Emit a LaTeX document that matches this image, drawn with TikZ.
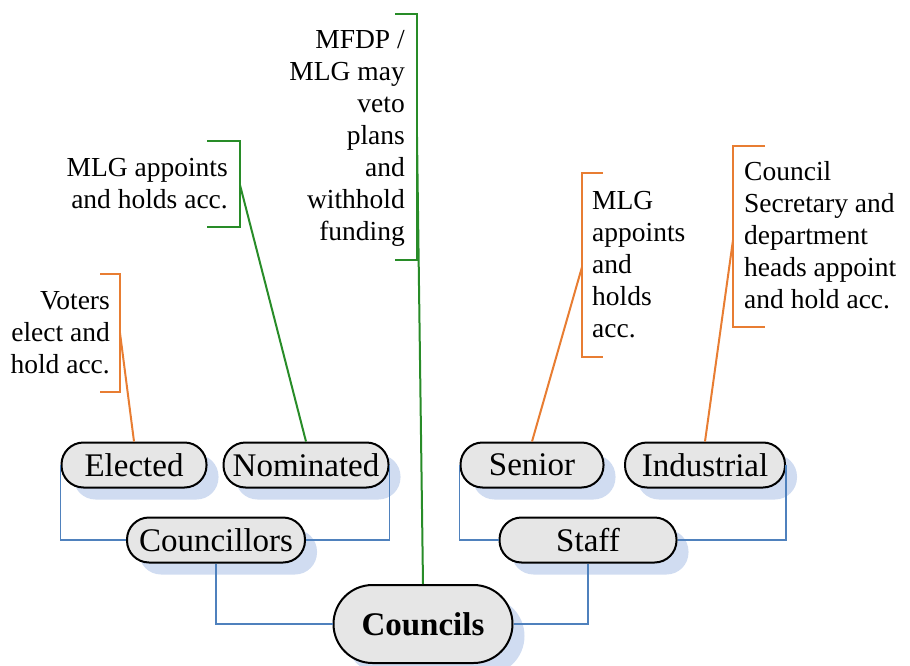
\documentclass[tikz,border=0pt]{standalone}
\usepackage{fontspec}
\setmainfont{Liberation Serif}
\usetikzlibrary{shadows}
\definecolor{boxgray}{RGB}{230,230,230}
\definecolor{shadowblue}{RGB}{208,220,241}
\definecolor{linkblue}{RGB}{79,129,189}
\definecolor{accorange}{RGB}{232,125,50}
\definecolor{accgreen}{RGB}{40,140,40}
\tikzset{ unit/.style = { rectangle % council body
        , draw = black
        , line width = 2pt
        , fill = boxgray
        , rounded corners = 22pt
        , minimum height = 45pt
        , inner sep = 0pt
        , font = \fontsize{33}{38}\selectfont
        , drop shadow = {shadow xshift=12pt, shadow yshift=-12pt, fill=shadowblue, opacity=1}
        }
        , note/.style = { rectangle % accountability text
        , inner sep = 0pt
        , font = \fontsize{27.5}{32}\selectfont
        }
        }

\begin{document}
\begin{tikzpicture}[x=1pt, y=-1pt,
        link/.style={draw=linkblue, line width=1.6pt},
        ora/.style={draw=accorange, line width=2pt},
        gre/.style={draw=accgreen, line width=2pt}]
        \useasboundingbox (0,0) rectangle (910,666);

        % bodies
        \node [unit, minimum width=145pt] (elected) at (134,465) {Elected};
        \node [unit, minimum width=165pt] (nominated) at (306,465) {Nominated};
        \node [unit, minimum width=178pt] (councillors) at (216,540) {Councillors};
        \node [unit, minimum width=143pt] (senior) at (532,465) {Senior};
        \node [unit, minimum width=160pt] (industrial) at (705,465) {Industrial};
        \node [unit, minimum width=177pt] (staff) at (588,540) {Staff};
        \node [unit, minimum width=179pt, minimum height=78pt, rounded corners=39pt,
               font=\fontsize{33}{38}\selectfont\bfseries] (councils) at (423,624) {Councils};

        \draw [link] (elected.west) |- (councillors.west);
        \draw [link] (nominated.east) |- (councillors.east);
        \draw [link] (councillors.south) |- (councils.west);
        \draw [link] (senior.west) |- (staff.west);
        \draw [link] (industrial.east) |- (staff.east);
        \draw [link] (staff.south) |- (councils.east);

        % accountability notes
        \node [note, anchor=east, align=right] (voters) at (110,333) {Voters\\elect and\\hold acc.};
        \draw [ora] (100,274) -- (120,274) -- (120,392) -- (100,392);
        \coordinate (voterslink) at (120,333);
        \draw [ora] (voterslink) -- (elected.north);

        \node [note, anchor=east, align=right] (mlgnom) at (228,184) {MLG appoints\\and holds acc.};
        \draw [gre] (207,141) -- (240,141) -- (240,227) -- (207,227);
        \coordinate (mlgnomlink) at (240,185);
        \draw [gre] (mlgnomlink) -- (nominated.north);

        \node [note, anchor=east, align=right] (mfdp) at (405,138) {MFDP /\\MLG may\\veto\\plans\\and\\withhold\\funding};
        \draw [gre] (395,14) -- (417,14) -- (417,260) -- (395,260);
        \coordinate (mfdplink) at (417,137);
        \draw [gre] (mfdplink) -- (councils.north);

        \node [note, anchor=west, align=left] (mlgsen) at (592,265) {MLG\\appoints\\and\\holds\\acc.};
        \draw [ora] (603,173) -- (582,173) -- (582,357) -- (603,357);
        \coordinate (mlgsenlink) at (582,267);
        \draw [ora] (mlgsenlink) -- (senior.north);

        \node [note, anchor=west, align=left] (secretary) at (744,235) {Council\\Secretary and\\department\\heads appoint\\and hold acc.};
        \draw [ora] (765,146) -- (733,146) -- (733,327) -- (765,327);
        \coordinate (secretarylink) at (733,240);
        \draw [ora] (secretarylink) -- (industrial.north);
\end{tikzpicture}
\end{document}
